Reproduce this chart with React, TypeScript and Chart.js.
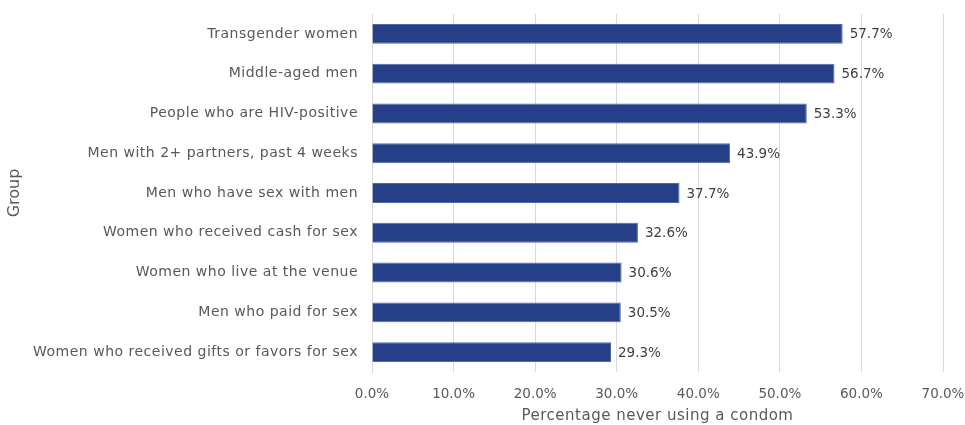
import React, { useEffect, useRef } from "react";
import { Chart, registerables } from "chart.js";

Chart.register(...registerables);

const categories = [
  "Transgender women",
  "Middle-aged men",
  "People who are HIV-positive",
  "Men with 2+ partners, past 4 weeks",
  "Men who have sex with men",
  "Women who received cash for sex",
  "Women who live at the venue",
  "Men who paid for sex",
  "Women who received gifts or favors for sex",
];
const values = [57.7, 56.7, 53.3, 43.9, 37.7, 32.6, 30.6, 30.5, 29.3];
const xTickStep = 10;
const xMax = 70;
const xTitle = "Percentage never using a condom";
const yTitle = "Group";

const FONT = "'DejaVu Sans', sans-serif";

const labelPlugin = {
  id: "barLabels",
  afterDatasetsDraw(chart: any) {
    const ctx = chart.ctx;
    const meta = chart.getDatasetMeta(0);
    ctx.save();
    ctx.letterSpacing = "0px";
    ctx.font = `13.5px ${FONT}`;
    ctx.fillStyle = "#404040";
    ctx.textAlign = "left";
    ctx.textBaseline = "middle";
    meta.data.forEach((bar: any, i: number) => {
      const v = chart.data.datasets[0].data[i];
      ctx.fillText(v.toFixed(1) + "%", bar.x + 7, bar.y + 1);
    });
    ctx.restore();
  },
};

function withSpacing(chart: any, scale: any, method: string, spacing: string) {
  const orig = scale[method].bind(scale);
  scale[method] = function (...args: any[]) {
    const ctx = chart.ctx;
    ctx.save();
    ctx.letterSpacing = spacing;
    orig(...args);
    ctx.restore();
  };
}

export default function App() {
  const ref = useRef<HTMLCanvasElement | null>(null);
  useEffect(() => {
    if (!ref.current) return;
    const chart = new Chart(ref.current, {
      type: "bar",
      data: {
        labels: categories,
        datasets: [
          {
            data: values,
            backgroundColor: "#253f88",
            borderColor: "#5468a8",
            borderWidth: 1,
            categoryPercentage: 0.5,
            barPercentage: 1,
          },
        ],
      },
      options: {
        indexAxis: "y",
        animation: false,
        responsive: true,
        maintainAspectRatio: false,
        layout: { padding: { top: 14, right: 22, left: 0, bottom: 0 } },
        plugins: { legend: { display: false }, tooltip: { enabled: false } },
        scales: {
          x: {
            min: 0,
            max: xMax,
            ticks: {
              stepSize: xTickStep,
              callback: (v: any) => Number(v).toFixed(1) + "%",
              color: "#595959",
              font: { family: FONT, size: 13.5 },
              padding: 14,
            },
            grid: { color: "#d9d9d9", drawTicks: false },
            border: { display: false },
            title: {
              display: true,
              text: xTitle,
              color: "#595959",
              font: { family: FONT, size: 15 },
              padding: { top: 2, bottom: 0 },
            },
            afterFit: (s: any) => {
              s.height = 53;
              s.paddingLeft = 0;
              s.paddingRight = 0;
            },
          },
          y: {
            ticks: {
              color: "#595959",
              font: { family: FONT, size: 14 },
              padding: 14,
            },
            grid: { display: false, drawTicks: false },
            border: { display: true, color: "#d9d9d9" },
            title: {
              display: true,
              text: yTitle,
              color: "#595959",
              font: { family: FONT, size: 16 },
              padding: { top: 5, bottom: 0, left: 0, right: 0 },
            },
            afterFit: (s: any) => {
              s.width = 372;
              s.paddingTop = 0;
              s.paddingBottom = 0;
            },
          },
        },
      },
      plugins: [
        {
          id: "spacing",
          beforeDraw(c: any) {
            c.ctx.letterSpacing = "0px";
          },
        },
        labelPlugin,
      ],
    });
    withSpacing(chart, chart.scales.y, "drawLabels", "0.5px");
    withSpacing(chart, chart.scales.x, "drawTitle", "0.5px");
    chart.draw();
    return () => chart.destroy();
  }, []);
  return (
    <div style={{ position: "fixed", left: 0, top: 0, width: 965, height: 425, background: "#fff" }}>
      <canvas ref={ref} />
    </div>
  );
}
